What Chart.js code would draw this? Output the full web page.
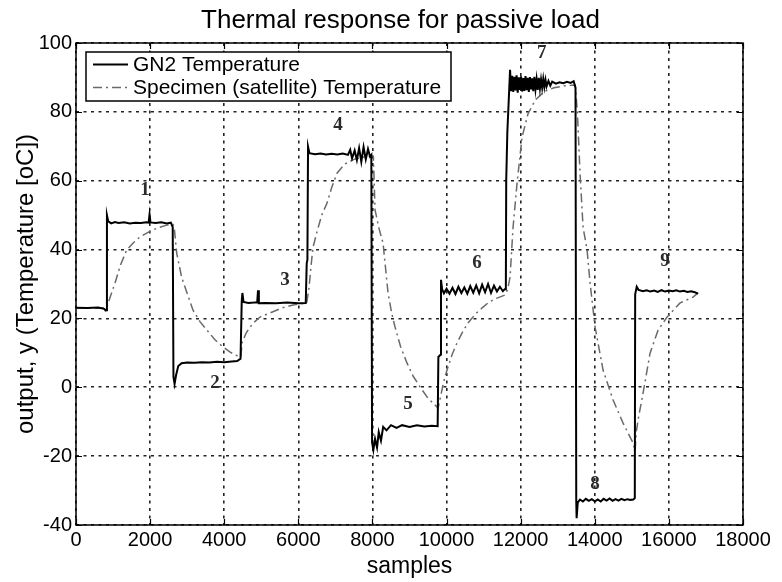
<!DOCTYPE html>
<html><head><meta charset="utf-8">
<script src="https://cdn.jsdelivr.net/npm/chart.js@4.4.0/dist/chart.umd.min.js"></script>
<style>html,body{margin:0;padding:0;background:#fff}#wrap{width:782px;height:582px}</style>
</head><body><div id="wrap"><canvas id="c" width="782" height="582"></canvas></div>
<script>
// ---- data ----
const seriesNames = ['GN2 Temperature', 'Specimen (satellite) Temperature'];

const gn2X = [0,300,600,760,800,828,
  835,870,950,1050,1150,1300,1450,1600,1750,1900,1960,1985,2010,2150,2300,2450,2560,2610,
  2630,2660,2700,2760,2850,3000,3200,3400,3600,3800,4000,4200,4350,4440,
  4472,4490,4520,4650,4800,4890,4912,4935,5100,5400,5700,6000,6200,
  6226,6245,6262,6300,6450,6600,6750,6900,7050,7200,7340,7400,7450,7520,7580,7640,7700,7760,7820,7880,7935,7970,
  7990,8025,8070,8124,8170,8230,8290,8380,8500,8650,8800,9000,9200,9400,9600,9760,
  9779,9843,9850,9880,9930,10000,10080,10160,10240,10320,10400,10480,10560,10640,10720,10800,10880,10960,11040,11120,11200,11280,11360,11440,11520,11570,
  11600,11610,11640,11714,11740,11770,11800,11830,11860,11890,11920,11950,11980,12010,12040,12070,12100,12130,12160,12190,12220,12250,12280,12310,12340,12370,12400,12430,12460,12490,12520,12550,12580,12610,12640,12670,12700,12750,12800,12850,12950,13050,13150,13250,13350,13430,13480,
  13500,13510,13540,13600,13680,13760,13840,13920,14000,14080,14160,14240,14320,14400,14480,14560,14640,14720,14800,14880,14960,15040,15080,
  15090,15132,15180,15300,15400,15500,15600,15700,15800,15900,16000,16100,16200,16300,16400,16500,16600,16700,16788];
const gn2Y = [23.1,23.0,23.2,22.8,22.3,22.4,
  50.0,48.2,47.6,48.0,47.7,47.9,47.6,47.8,47.7,47.9,47.8,50.2,47.9,47.7,47.9,47.6,47.8,46.5,
  3.0,1.0,3.5,6.2,7.0,7.2,7.1,7.3,7.2,7.4,7.3,7.5,7.6,8.3,
  24.8,27.4,24.8,24.5,24.6,24.7,28.2,24.4,24.5,24.4,24.6,24.4,24.5,
  36.0,37.0,69.9,68.0,67.7,67.9,67.6,67.8,67.6,67.9,67.5,69.0,66.5,68.8,66.0,69.5,65.5,69.8,66.2,69.2,67.0,67.5,
  -16.0,-18.2,-15.0,-17.5,-13.0,-15.5,-11.5,-12.5,-11.0,-11.8,-11.0,-11.5,-11.0,-11.4,-11.2,-11.3,
  8.8,9.5,31.2,28.5,27.3,28.6,27.2,28.9,27.1,29.2,27.4,29.0,27.2,29.4,27.5,29.6,27.3,29.8,27.6,30.0,27.4,29.5,27.8,29.2,27.9,28.5,
  28.5,60.0,74.0,92.2,86.0,90.5,85.8,90.2,86.2,90.6,85.6,90.0,86.4,90.3,85.9,89.8,86.1,90.4,86.3,89.9,85.8,90.1,86.5,89.7,86.0,90.2,86.6,89.5,86.4,89.9,86.8,89.4,87.0,89.6,87.2,89.3,87.4,89.0,87.6,88.8,88.2,88.6,88.3,88.7,88.4,88.9,87.0,
  -33.0,-38.0,-33.5,-32.6,-33.2,-32.4,-33.0,-32.5,-33.1,-32.6,-33.2,-32.4,-32.9,-32.3,-33.0,-32.5,-32.9,-32.4,-32.8,-32.5,-32.7,-32.6,-32.2,
  27.0,29.2,28.3,27.9,28.2,27.8,28.1,27.7,28.2,27.8,28.1,27.9,28.2,27.8,28.0,27.7,27.9,27.6,27.2];

const specX = [0,828,900,1053,1200,1368,1550,1727,1979,2200,2448,2620,
  2650,2717,2850,2996,3158,3350,3536,3750,3968,4150,4291,4450,
  4480,4580,4696,4820,4966,5236,5550,5857,6226,
  6290,6340,6397,6500,6630,6775,6900,7045,7250,7500,7750,8000,
  8025,8040,8070,8180,8286,8350,8421,8520,8610,8760,8934,9100,9285,9500,9771,
  9843,9920,10013,10150,10283,10430,10580,10780,10985,11150,11363,11579,
  11650,11714,11795,11903,12038,12200,12400,12650,12900,13200,13470,
  13530,13603,13684,13792,13873,14008,14224,14494,14764,15034,15087,
  15120,15168,15303,15492,15708,15951,16302,16653,16788];
const specY = [23.0,23.0,25.5,30.3,35.5,39.9,42.0,43.7,45.2,46.3,47.1,47.3,
  46.5,39.0,32.0,27.4,22.4,19.0,16.6,13.8,11.7,10.3,9.4,8.8,
  12.9,15.5,17.5,19.0,20.4,21.6,23.0,23.9,24.5,
  29.0,35.0,40.7,45.0,50.0,53.5,58.0,62.2,64.8,66.2,66.8,67.2,
  67.0,62.0,51.5,46.0,41.9,35.0,27.4,21.5,17.5,11.8,7.0,3.2,0.1,-3.2,-6.0,
  -2.5,1.5,5.0,9.5,12.9,16.0,18.7,21.3,23.3,24.8,25.9,26.8,
  28.5,32.0,46.5,59.3,72.7,79.5,83.5,86.0,87.0,87.6,87.8,
  80.0,62.0,46.5,39.9,30.3,17.5,5.0,-3.7,-10.4,-16.2,-18.5,
  -13.0,-9.5,-1.7,9.9,16.6,20.4,24.5,26.2,27.4];

const stageLabels = ['1','2','3','4','5','6','7','8','9'];
const stageX = [1862,3752,5641,7071,8961,10823,12569,14008,15897];
const stageY = [57.3,1.2,31.2,76.3,-4.9,36.1,97.1,-28.1,36.7];

const chartTitle = 'Thermal response for passive load';
const xTitle = 'samples';
const yTitle = 'output, y (Temperature [oC])';

// ---- drawing ----
const FONT = '"Liberation Sans", Arial, Helvetica, sans-serif';
const specStyle = { color: '#6a6a6a', dash: [9, 4, 2, 4], width: 1.5 };

const decor = {
  id: 'decor',
  beforeDraw(chart) {
    const ctx = chart.ctx;
    ctx.save(); ctx.fillStyle = '#fff'; ctx.fillRect(0, 0, chart.width, chart.height); ctx.restore();
  },
  afterDatasetsDraw(chart) {
    const { ctx, chartArea: a, scales: { x, y } } = chart;
    ctx.save();
    // stage numbers
    ctx.font = 'bold 19px "Liberation Serif", "Times New Roman", serif';
    ctx.fillStyle = '#2a2a2a';
    ctx.textAlign = 'center'; ctx.textBaseline = 'middle';
    stageLabels.forEach((t, i) => ctx.fillText(t, x.getPixelForValue(stageX[i]), y.getPixelForValue(stageY[i])));
    // frame
    ctx.setLineDash([]);
    ctx.strokeStyle = '#000'; ctx.lineWidth = 1.5;
    ctx.strokeRect(a.left, a.top, a.right - a.left, a.bottom - a.top);
    // inward tick marks on all sides
    ctx.lineWidth = 1.2;
    ctx.beginPath();
    x.ticks.forEach(t => {
      const px = Math.round(x.getPixelForValue(t.value)) + 0.5;
      ctx.moveTo(px, a.bottom); ctx.lineTo(px, a.bottom - 6);
      ctx.moveTo(px, a.top); ctx.lineTo(px, a.top + 6);
    });
    y.ticks.forEach(t => {
      const py = Math.round(y.getPixelForValue(t.value)) + 0.5;
      ctx.moveTo(a.left, py); ctx.lineTo(a.left + 6, py);
      ctx.moveTo(a.right, py); ctx.lineTo(a.right - 6, py);
    });
    ctx.stroke();
    // legend box
    const lx = a.left + 10, ly = a.top + 9, lw = 365, lh = 49;
    ctx.fillStyle = '#fff';
    ctx.fillRect(lx, ly, lw, lh);
    ctx.strokeStyle = '#000'; ctx.lineWidth = 1.5;
    ctx.strokeRect(lx, ly, lw, lh);
    const row1 = ly + 12.5, row2 = ly + 35.5;
    ctx.lineWidth = 2; ctx.strokeStyle = '#000';
    ctx.beginPath(); ctx.moveTo(lx + 7, row1); ctx.lineTo(lx + 42, row1); ctx.stroke();
    ctx.lineWidth = specStyle.width; ctx.strokeStyle = specStyle.color; ctx.setLineDash(specStyle.dash);
    ctx.beginPath(); ctx.moveTo(lx + 7, row2); ctx.lineTo(lx + 42, row2); ctx.stroke();
    ctx.setLineDash([]);
    ctx.fillStyle = '#000'; ctx.font = '21px ' + FONT;
    ctx.textAlign = 'left'; ctx.textBaseline = 'middle';
    ctx.fillText(seriesNames[0], lx + 47, row1 + 1);
    ctx.fillText(seriesNames[1], lx + 47, row2 + 1);
    // title
    ctx.font = '26px ' + FONT;
    ctx.textAlign = 'center'; ctx.textBaseline = 'alphabetic';
    ctx.fillText(chartTitle, (a.left + a.right) / 2 - 9, 28);
    ctx.restore();
  }
};

const toPts = (xs, ys) => xs.map((v, i) => ({ x: v, y: ys[i] }));

new Chart(document.getElementById('c'), {
  type: 'scatter',
  data: {
    datasets: [
      { label: seriesNames[0], data: toPts(gn2X, gn2Y), showLine: true, borderColor: '#000', borderWidth: 2,
        pointRadius: 0, tension: 0, fill: false },
      { label: seriesNames[1], data: toPts(specX, specY), showLine: true, borderColor: specStyle.color,
        borderWidth: specStyle.width, borderDash: specStyle.dash, pointRadius: 0, tension: 0, fill: false }
    ]
  },
  options: {
    responsive: false,
    animation: false,
    devicePixelRatio: 1,
    layout: { padding: { top: 43, right: 39, bottom: 0, left: 0 } },
    plugins: { legend: { display: false }, title: { display: false }, tooltip: { enabled: false } },
    scales: {
      x: {
        type: 'linear', min: 0, max: 18000,
        ticks: { stepSize: 2000, padding: 3, color: '#000', font: { family: FONT, size: 20 }, maxRotation: 0, autoSkip: false,
                 callback: v => String(v) },
        grid: { color: '#222', lineWidth: 1.6, drawTicks: false },
        border: { display: false, dash: [3, 4.5] },
        title: { display: true, text: xTitle, color: '#000', font: { family: FONT, size: 23 }, padding: { top: 0, bottom: 2 } },
        afterFit(s) { s.height = 57; }
      },
      y: {
        type: 'linear', min: -40, max: 100,
        ticks: { stepSize: 20, padding: 4, color: '#000', font: { family: FONT, size: 20 }, callback: v => String(v) },
        grid: { color: '#222', lineWidth: 1.6, drawTicks: false },
        border: { display: false, dash: [3, 4.5] },
        title: { display: true, text: yTitle, color: '#000', font: { family: FONT, size: 24 }, padding: { top: 12, bottom: 0 } },
        afterFit(s) { s.width = 76; }
      }
    }
  },
  plugins: [decor]
});
</script>
</body></html>
